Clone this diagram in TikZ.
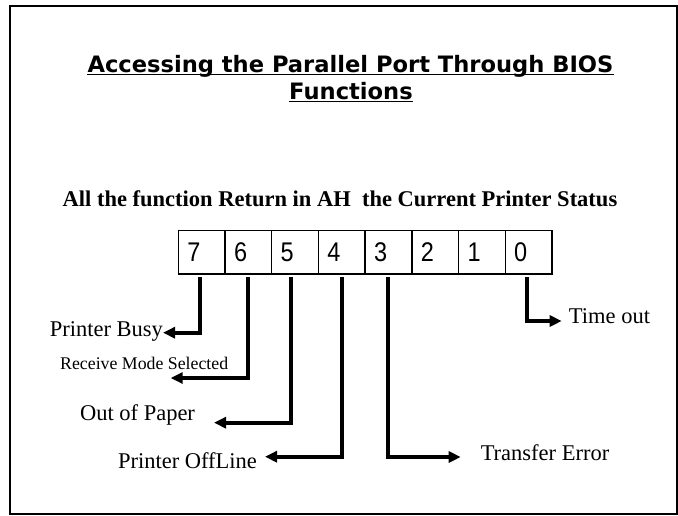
\documentclass[tikz,border=0pt]{standalone}
\usepackage{fontspec}
\setmainfont{Liberation Serif}
\newfontfamily\titlefont{DejaVu Sans}
\newfontfamily\digitfont{Liberation Sans}[FakeStretch=0.87]
\usetikzlibrary{arrows.meta,calc}
\tikzset{
  frame/.style={line width=2pt},
  titletext/.style={inner sep=0pt, anchor=base, font=\titlefont\bfseries\fontsize{22.6}{27}\selectfont},
  subtext/.style={inner sep=0pt, anchor=base, font=\bfseries\fontsize{22.5}{27}\selectfont},
  uline/.style={line width=1.5pt},
  cell/.style={draw, line width=1.4pt, minimum height=43.3pt, inner xsep=9pt, inner ysep=0pt,
    text width=28.7pt, align=left, font=\digitfont\fontsize{27}{27}\selectfont},
  lab/.style={inner sep=0pt, anchor=base, font=\fontsize{22.5}{27}\selectfont},
  smalllab/.style={inner sep=0pt, anchor=base, font=\fontsize{17.8}{21}\selectfont},
  conn/.style={line width=4pt, -{Triangle[length=12pt,width=11pt]}}
}
\begin{document}
\begin{tikzpicture}[x=1pt,y=-1pt]
\useasboundingbox (0,0) rectangle (678,515);
\draw[frame] (10,6) rectangle (677,514);

% title
\node[titletext] (t1) at (350.5,72.7) {Accessing the Parallel Port Through BIOS};
\node[titletext] (t2) at (351,99.3) {Functions};
\draw[uline] ($(t1.base west)+(0,2)$) -- ($(t1.base east)+(0,2)$);
\draw[uline] ($(t2.base west)+(0,2)$) -- ($(t2.base east)+(0,2)$);

% subtitle
\node[subtext] (sub) at (340,206.7) {All the function Return in AH\ \ the Current Printer Status};

% register cells
\node[cell] (c7) at (201.65,252.35) {7};
\node[cell] (c6) at (248.35,252.35) {6};
\node[cell] (c5) at (295.05,252.35) {5};
\node[cell] (c4) at (341.75,252.35) {4};
\node[cell] (c3) at (388.45,252.35) {3};
\node[cell] (c2) at (435.15,252.35) {2};
\node[cell] (c1) at (481.85,252.35) {1};
\node[cell] (c0) at (528.55,252.35) {0};

% labels
\node[lab] (busy) at (106.4,336.7) {Printer Busy};
\node[smalllab] (recv) at (144.2,369) {Receive Mode Selected};
\node[lab] (paper) at (137.5,420) {Out of Paper};
\node[lab] (offline) at (187.5,468) {Printer OffLine};
\node[lab] (terr) at (545,460) {Transfer Error};
\node[lab] (tout) at (609.5,323) {Time out};

% arrow tips
\coordinate (tip7) at (163,332.7);
\coordinate (tip6) at (170.7,378);
\coordinate (tip5) at (214,422.7);
\coordinate (tip4) at (265,456.7);
\coordinate (tip3) at (460.7,457);
\coordinate (tip0) at (561.7,321);

% connectors
\draw[conn] ($(c7.south)+(-1.6,2.7)$) |- (tip7);
\draw[conn] ($(c6.south)+(-0.6,2.7)$) |- (tip6);
\draw[conn] ($(c5.south)+(-4,2.7)$) |- (tip5);
\draw[conn] ($(c4.south)+(0,2.7)$) |- (tip4);
\draw[conn] ($(c3.south)+(-0.4,2.7)$) |- (tip3);
\draw[conn] ($(c0.south)+(-1.8,2.7)$) |- (tip0);
\end{tikzpicture}
\end{document}
